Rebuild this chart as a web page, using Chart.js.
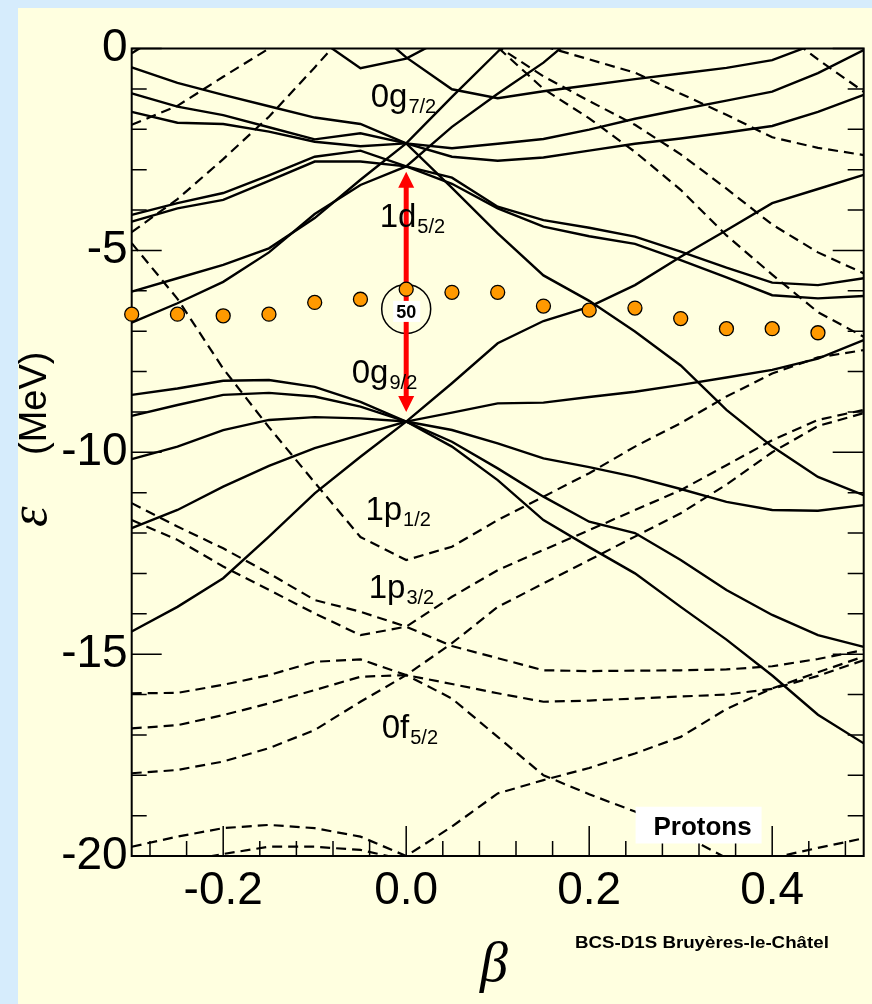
<!DOCTYPE html>
<html>
<head>
<meta charset="utf-8">
<script src="https://cdn.jsdelivr.net/npm/chart.js"></script>
<style>
  html, body { margin: 0; padding: 0; background: #d6ecfc; }
  #wrap { width: 872px; height: 1004px; position: relative; }
</style>
</head>
<body>
<div id="wrap"><canvas id="myChart"></canvas></div>
<script>
// deformation grid (beta) shared by every level
var betas = [-0.3, -0.25, -0.2, -0.15, -0.1, -0.05, 0, 0.05, 0.1, 0.15, 0.2, 0.25, 0.3, 0.35, 0.4, 0.45, 0.5];

// positive parity levels (solid), energies in MeV
var g72a = [-0.47, -0.85, -1.15, -1.43, -1.71, -1.87, -2.35, -2.68, -2.78, -2.70, -2.53, -2.36, -2.23, -2.08, -1.92, -1.57, -1.15];
var g72b = [-1.11, -1.44, -1.65, -1.95, -2.25, -2.10, -2.35, -2.47, -2.36, -2.24, -2.01, -1.74, -1.51, -1.29, -1.07, -0.61, -0.04];
var g72c = [-1.57, -1.84, -1.87, -2.06, -2.31, -2.42, -2.35, -3.45, -4.58, -5.62, -6.25, -7.01, -7.85, -8.95, -9.86, -10.61, -11.06];
var g72d = [-6.02, -5.69, -5.36, -4.95, -4.2, -3.25, -2.35, -1.2, -0.08, 1.0, null, null, null, null, null, null, null];
var d52a = [-4.12, -3.83, -3.58, -3.14, -2.68, -2.53, -2.92, -3.2, -3.92, -4.25, -4.44, -4.66, -5.03, -5.43, -5.80, -5.86, -5.69];
var d52b = [-4.29, -3.96, -3.75, -3.28, -2.80, -2.80, -2.92, -3.35, -3.96, -4.41, -4.65, -4.84, -5.24, -5.67, -6.11, -6.19, -6.13];
var d52c = [-6.79, -6.31, -5.78, -5.05, -4.1, -3.38, -2.92, -1.94, -1.12, -0.35, 0.6, null, null, null, null, null, null];
var g92a = [-8.58, -8.42, -8.23, -8.21, -8.38, -8.75, -9.24, -8.29, -7.30, -6.75, -6.4, -5.86, -5.16, -4.5, -3.83, -3.48, -3.13];
var g92b = [-9.10, -8.83, -8.58, -8.53, -8.62, -8.87, -9.24, -9.02, -8.79, -8.77, -8.63, -8.50, -8.33, -8.15, -7.96, -7.68, -7.22];
var g92c = [-10.17, -9.86, -9.45, -9.20, -9.13, -9.16, -9.24, -9.45, -9.78, -10.15, -10.37, -10.61, -10.91, -11.23, -11.43, -11.45, -11.31];
var g92d = [-11.88, -11.43, -10.85, -10.34, -9.90, -9.57, -9.24, -9.74, -10.40, -11.10, -11.72, -12.0, -12.67, -13.41, -14.03, -14.53, -14.82];
var g92e = [-14.44, -13.83, -13.12, -12.09, -11.02, -10.11, -9.24, -9.86, -10.69, -11.68, -12.35, -13.0, -13.83, -14.64, -15.53, -16.5, -17.21];
var topV = [null, null, null, null, 0.3, -0.49, -0.25, 0.35, null, null, null, null, null, null, null, null, null];
var topT = [null, null, null, null, null, 0.75, -0.22, -1.01, -1.23, -1.06, -0.91, -0.76, -0.62, -0.48, -0.29, 0.14, null];
var corner = [-0.12, 0.6, null, null, null, null, null, null, null, null, null, null, null, null, null, null, null];

// negative parity levels (dashed)
var dl1 = [-1.89, -1.42, -0.70, 0.0, 0.6, null, null, null, null, null, null, null, null, null, null, null, null];
var dl2 = [-4.55, -3.73, -2.74, -1.69, -0.47, 0.8, null, null, null, null, null, null, null, null, null, null, null];
var p12 = [-4.82, -6.2, -7.93, -9.38, -10.75, -12.1, -12.67, -12.34, -11.68, -11.1, -10.52, -9.86, -9.28, -8.62, -8.05, -7.65, -7.47];
var p32a = [-11.26, -11.84, -12.38, -13.0, -13.66, -13.95, -14.32, -13.58, -12.92, -12.42, -11.93, -11.43, -10.94, -10.32, -9.70, -9.20, -8.95];
var p32b = [-11.68, -12.17, -12.83, -13.41, -13.99, -14.53, -14.32, -14.8, -15.1, -15.4, -15.42, -15.41, -15.40, -15.38, -15.3, -15.12, -14.9];
var f52a = [-15.97, -15.96, -15.76, -15.52, -15.19, -15.13, -15.52, -15.74, -15.97, -16.18, -16.15, -16.1, -16.05, -16.0, -15.86, -15.54, -15.15];
var f52b = [-16.84, -16.76, -16.51, -16.22, -15.89, -15.56, -15.52, -14.73, -13.83, -13.25, -12.67, -12.09, -11.51, -10.8, -10.0, -9.35, -9.03];
var f52c = [-17.95, -17.87, -17.66, -17.33, -16.88, -16.18, -15.52, -16.1, -17.05, -18.0, -18.47, -18.9, -19.45, -20.05, -20.6, null, null];
var f72a = [-19.77, -19.52, -19.31, -19.23, -19.31, -19.52, -20.0, -19.27, -18.45, -18.12, -17.82, -17.46, -17.05, -16.36, -15.85, -15.45, -15.06];
var f72b = [null, -20.15, -19.95, -19.77, -19.77, -19.85, -20.1, null, null, null, null, null, null, -20.5, -20.05, -19.8, -19.56];
var h1 = [null, null, null, null, null, null, null, null, 0.4, 0.06, -0.27, -0.6, -1.12, -1.64, -2.2, -2.46, -2.64];
var h2 = [null, null, null, null, null, null, null, null, null, null, null, null, null, null, 0.6, -0.27, -1.07];
var h3 = [null, null, null, null, null, null, null, 0.65, 0.05, -0.69, -1.3, -1.89, -2.62, -3.47, -4.36, -5.05, -5.57];
var h4 = [null, null, null, null, null, null, null, 1.1, 0.03, -1.0, -1.73, -2.56, -3.5, -4.63, -5.6, -6.53, -7.14];

// Fermi level (orange dots)
var dotBetas = [-0.3, -0.25, -0.2, -0.15, -0.1, -0.05, 0, 0.05, 0.1, 0.15, 0.2, 0.25, 0.3, 0.35, 0.4, 0.45];
var dotEnergies = [-6.58, -6.58, -6.62, -6.58, -6.29, -6.21, -5.96, -6.04, -6.04, -6.38, -6.48, -6.43, -6.69, -6.94, -6.94, -7.04];

// axes
var xTicks = [-0.2, 0, 0.2, 0.4];
var xMinorTicks = [-0.28, -0.24, -0.16, -0.12, -0.08, -0.04, 0.04, 0.08, 0.12, 0.16, 0.24, 0.28, 0.32, 0.36, 0.44, 0.48];
var yTicks = [0, -5, -10, -15, -20];
var yMinorTicks = [-1, -2, -3, -4, -6, -7, -8, -9, -11, -12, -13, -14, -16, -17, -18, -19];

// shell labels: [orbital, j subscript, beta, energy]
var shellLabels = [
  ["0g", "7/2", -0.0388, -1.45],
  ["1d", "5/2", -0.029, -4.42],
  ["0g", "9/2", -0.0595, -8.28],
  ["1p", "1/2", -0.0446, -11.68],
  ["1p", "3/2", -0.041, -13.61],
  ["0f", "5/2", -0.0268, -17.08]
];

var solidLevels = [g72a, g72b, g72c, g72d, d52a, d52b, d52c, g92a, g92b, g92c, g92d, g92e, topV, topT, corner];
var dashedLevels = [dl1, dl2, p12, p32a, p32b, f52a, f52b, f52c, f72a, f72b, h1, h2, h3, h4];

function level(values, dashed) {
  return {
    data: betas.map(function (b, i) { return { x: b, y: values[i] }; }),
    borderColor: "#000",
    borderWidth: dashed ? 2.2 : 2.4,
    borderDash: dashed ? [10, 6] : [],
    pointRadius: 0,
    fill: false,
    tension: 0
  };
}

var datasets = solidLevels.map(function (v) { return level(v, false); })
  .concat(dashedLevels.map(function (v) { return level(v, true); }));

var dotsIndex = datasets.length;
datasets.push({
  data: dotBetas.map(function (b, i) { return { x: b, y: dotEnergies[i] }; }),
  showLine: false,
  pointRadius: 7,
  pointBackgroundColor: "#ff9900",
  pointBorderColor: "#000",
  pointBorderWidth: 1.3,
  order: -1,
  clip: false
});

var SANS = '"Liberation Sans", Arial, sans-serif';
var SERIF = '"Liberation Serif", "Times New Roman", serif';

var decor = {
  id: "decor",
  beforeDraw: function (chart) {
    var ctx = chart.ctx;
    ctx.save();
    ctx.fillStyle = "#d6ecfc";
    ctx.fillRect(0, 0, chart.width, chart.height);
    ctx.fillStyle = "#ffffe0";
    ctx.fillRect(18, 8, chart.width - 18, chart.height - 8);
    ctx.restore();
  },
  beforeDatasetsDraw: function (chart) {
    var ctx = chart.ctx, a = chart.chartArea, sx = chart.scales.x, sy = chart.scales.y;
    ctx.save();
    ctx.strokeStyle = "#000";
    ctx.lineWidth = 1.5;
    ctx.beginPath();
    yTicks.concat(yMinorTicks).forEach(function (v) {
      var len = yTicks.indexOf(v) >= 0 ? 30 : 15;
      var y = sy.getPixelForValue(v);
      ctx.moveTo(a.left, y); ctx.lineTo(a.left + len, y);
      ctx.moveTo(a.right, y); ctx.lineTo(a.right - len - 1, y);
    });
    xTicks.concat(xMinorTicks).forEach(function (v) {
      var len = xTicks.indexOf(v) >= 0 ? 30 : 15;
      var x = sx.getPixelForValue(v);
      ctx.moveTo(x, a.bottom); ctx.lineTo(x, a.bottom - len);
    });
    ctx.stroke();
    ctx.lineWidth = 2;
    ctx.strokeRect(a.left, a.top, a.right - a.left, a.bottom - a.top);
    ctx.restore();
  },
  beforeDatasetDraw: function (chart, args) {
    if (args.index !== dotsIndex) return;
    var ctx = chart.ctx, sx = chart.scales.x, sy = chart.scales.y;
    var x0 = sx.getPixelForValue(0);
    // magic number circle
    var cy = sy.getPixelForValue(-6.45);
    ctx.save();
    ctx.strokeStyle = "#000";
    ctx.lineWidth = 1.5;
    ctx.beginPath();
    ctx.arc(x0, cy, 24.5, 0, Math.PI * 2);
    ctx.stroke();
    // red double arrow between the shells
    var yTop = sy.getPixelForValue(-3.05), yBot = sy.getPixelForValue(-9.0);
    ctx.strokeStyle = "#ff0000";
    ctx.fillStyle = "#ff0000";
    ctx.lineWidth = 5;
    ctx.beginPath();
    ctx.moveTo(x0, yTop + 14); ctx.lineTo(x0, yBot - 14);
    ctx.stroke();
    ctx.beginPath();
    ctx.moveTo(x0, yTop); ctx.lineTo(x0 - 8, yTop + 16); ctx.lineTo(x0 + 8, yTop + 16); ctx.closePath();
    ctx.moveTo(x0, yBot); ctx.lineTo(x0 - 8, yBot - 16); ctx.lineTo(x0 + 8, yBot - 16); ctx.closePath();
    ctx.fill();
    ctx.fillStyle = "#fff";
    ctx.fillRect(x0 - 13, cy - 8, 27, 21);
    ctx.fillStyle = "#000";
    ctx.font = "bold 18px " + SANS;
    ctx.textAlign = "center";
    ctx.textBaseline = "alphabetic";
    ctx.fillText("50", x0, cy + 9);
    ctx.restore();
  },
  afterDraw: function (chart) {
    var ctx = chart.ctx, sx = chart.scales.x, sy = chart.scales.y;
    ctx.save();
    ctx.fillStyle = "#000";
    ctx.textBaseline = "alphabetic";
    ctx.textAlign = "left";
    shellLabels.forEach(function (l) {
      var x = sx.getPixelForValue(l[2]), y = sy.getPixelForValue(l[3]);
      ctx.font = "33px " + SANS;
      ctx.fillText(l[0], x, y);
      var w = ctx.measureText(l[0]).width;
      ctx.font = "20px " + SANS;
      ctx.fillText(l[1], x + w + 1, y + 6);
    });
    // Protons box
    var bx = sx.getPixelForValue(0.2507), by = sy.getPixelForValue(-18.78);
    var bx2 = sx.getPixelForValue(0.3884), by2 = sy.getPixelForValue(-19.69);
    ctx.fillStyle = "#fff";
    ctx.fillRect(bx, by, bx2 - bx, by2 - by);
    ctx.fillStyle = "#000";
    ctx.font = "bold 26px " + SANS;
    ctx.textAlign = "center";
    ctx.fillText("Protons", (bx + bx2) / 2 + 4, by2 - 8);
    // credit line
    ctx.save();
    ctx.translate(575, 948);
    ctx.scale(1.17, 1);
    ctx.font = "bold 16px " + SANS;
    ctx.textAlign = "left";
    ctx.fillText("BCS-D1S Bruyères-le-Châtel", 0, 0);
    ctx.restore();
    // axis titles
    ctx.textAlign = "center";
    ctx.font = "italic 56px " + SERIF;
    ctx.fillText("β", 494, 981);
    ctx.save();
    ctx.translate(46, 527);
    ctx.rotate(-Math.PI / 2);
    ctx.textAlign = "left";
    ctx.font = "italic 52px " + SERIF;
    ctx.fillText("ε", 0, 0);
    ctx.font = "38px " + SANS;
    ctx.fillText("(MeV)", 72, 0);
    ctx.restore();
    ctx.restore();
  }
};

var ctx = document.getElementById("myChart").getContext("2d");
var chart = new Chart(ctx, {
  type: "line",
  data: { datasets: datasets },
  options: {
    responsive: true,
    maintainAspectRatio: false,
    animation: false,
    layout: { padding: { left: 0, top: 48.5, right: 4.3, bottom: 0 } },
    plugins: { legend: { display: false }, tooltip: { enabled: false } },
    scales: {
      x: {
        type: "linear",
        min: -0.3,
        max: 0.5,
        grid: { display: false, drawTicks: false },
        border: { display: false },
        afterBuildTicks: function (s) { s.ticks = xTicks.map(function (v) { return { value: v }; }); },
        afterFit: function (s) { s.height = 148; },
        ticks: {
          color: "#000",
          padding: 8,
          font: { family: SANS, size: 46 },
          maxRotation: 0,
          callback: function (v) { return Number(v).toFixed(1); }
        }
      },
      y: {
        type: "linear",
        min: -20,
        max: 0,
        grid: { display: false, drawTicks: false },
        border: { display: false },
        afterBuildTicks: function (s) { s.ticks = yTicks.map(function (v) { return { value: v }; }); },
        afterFit: function (s) { s.width = 131.7; },
        ticks: {
          color: "#000",
          padding: 4,
          font: { family: SANS, size: 46 },
          callback: function (v) { return String(v); }
        }
      }
    }
  },
  plugins: [decor]
});
</script>
</body>
</html>
